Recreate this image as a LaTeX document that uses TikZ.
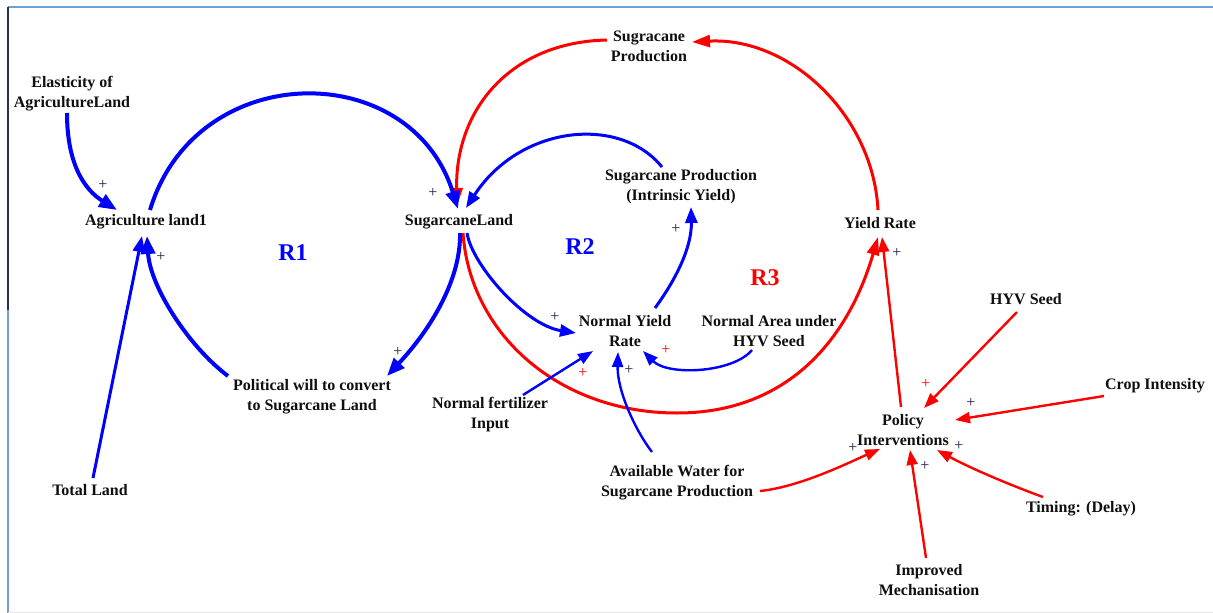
\documentclass[tikz,border=0pt]{standalone}
\usepackage{fontspec}
\setmainfont{Liberation Serif}
\usetikzlibrary{arrows.meta,calc}
\definecolor{myblue}{RGB}{0,0,255}
\definecolor{myred}{RGB}{255,0,0}
\definecolor{plusdark}{RGB}{30,30,70}
\definecolor{frameblue}{RGB}{110,160,215}
\definecolor{framedark}{RGB}{35,50,80}
\definecolor{txt}{RGB}{15,15,15}
\tikzset{
  lbl/.style={font=\fontsize{16}{20}\selectfont\bfseries, text=txt, align=center, inner sep=1pt},
  loopname/.style={font=\fontsize{24}{24}\selectfont\bfseries, inner sep=0pt},
  pl/.style={font=\fontsize{16}{16}\selectfont, text=plusdark, inner sep=0pt},
  plr/.style={font=\fontsize{16}{16}\selectfont, text=myred, inner sep=0pt},
  bthick/.style={draw=myblue, line width=4pt, -{Triangle[length=18pt,width=14pt]}},
  bmed/.style={draw=myblue, line width=3pt, -{Triangle[length=16pt,width=12pt]}},
  bthin/.style={draw=myblue, line width=2.4pt, -{Triangle[length=15pt,width=11pt]}},
  rmed/.style={draw=myred, line width=3pt, -{Triangle[length=18pt,width=12pt]}},
  rthin/.style={draw=myred, line width=2.4pt, -{Triangle[length=15pt,width=11pt]}},
}
\begin{document}
\begin{tikzpicture}[x=1pt,y=-1pt]
\useasboundingbox (0,0) rectangle (1213,613);
\fill[white] (0,0) rectangle (1213,613);
% frame
\draw[frameblue, line width=2pt] (8,7) -- (1213,7);
\draw[framedark, line width=2pt] (8,7) -- (8,310);
\draw[frameblue, line width=2pt] (8,310) -- (8,613);
\draw[black!10, line width=1pt] (8,612) -- (1213,612);

% nodes
\node[lbl] (ela)  at (72,94)   {Elasticity of\\AgricultureLand};
\node[lbl] (al)   at (146,222) {Agriculture land1};
\node[lbl] (sl)   at (459,222) {SugarcaneLand};
\node[lbl] (sp)   at (649,46)  {Sugracane\\Production};
\node[lbl] (spi)  at (681,187) {Sugarcane Production\\(Intrinsic Yield)};
\node[lbl] (yr)   at (880,223) {Yield Rate};
\node[lbl] (nyr)  at (625,331) {Normal Yield\\Rate};
\node[lbl] (nah)  at (769,331) {Normal Area under\\HYV Seed};
\node[lbl] (hyv)  at (1026,299) {HYV Seed};
\node[lbl] (crop) at (1155,386) {Crop Intensity};
\node[lbl] (pw)   at (312,397) {Political will to convert\\to Sugarcane Land};
\node[lbl] (nfi)  at (490,415) {Normal fertilizer\\Input};
\node[lbl] (pol)  at (903,430) {Policy\\Interventions};
\node[lbl] (tl)   at (90,490)  {Total Land};
\node[lbl] (aw)   at (677,483) {Available Water for\\Sugarcane Production};
\node[lbl] (tim)  at (1081,509) {Timing: (Delay)};
\node[lbl] (mech) at (929,580) {Improved\\Mechanisation};

\node[loopname, text=myblue] (r1) at (293,253) {R1};
\node[loopname, text=myblue] (r2) at (580,247) {R2};
\node[loopname, text=myred]  (r3) at (765,278) {R3};

% red connectors
\draw[rmed] ($(yr)+(-2,-13)$) .. controls (873,115) and (790,37) .. ($(sp)+(43,-4)$);
\draw[rmed] ($(sp)+(-42,-6)$) .. controls (510,42) and (455,110) .. ($(sl)+(-2,-16)$);
\draw[rmed] ($(sl)+(4,11)$) .. controls (470,335) and (560,413) .. (677,413)
                            .. controls (787,413) and (848,340) .. ($(yr)+(-2,14)$);
\draw[rthin] ($(pol)+(-2,-23)$) -- ($(yr)+(2,14)$);
\draw[rthin] ($(hyv)+(-9,13)$) -- ($(pol)+(21,-22)$);
\draw[rthin] ($(crop)+(-51,10)$) -- ($(pol)+(52,-10)$);
\draw[rthin] ($(tim)+(-38,-12)$) .. controls (1010,485) and (970,468) .. ($(pol)+(34,20)$);
\draw[rthin] ($(mech)+(-3,-22)$) -- ($(pol)+(7,20)$);
\draw[rthin] ($(aw)+(83,8)$) .. controls (800,487) and (850,462) .. ($(pol)+(-23,19)$);

% blue connectors
\draw[bthick] ($(ela)+(-5,19)$) .. controls (67,165) and (85,190) .. ($(al)+(-29,-12)$);
\draw[bthick] ($(al)+(4,-12)$) .. controls (196,58) and (411,57) .. ($(sl)+(-1,-13)$);
\draw[bmed] ($(tl)+(3,-12)$) -- ($(al)+(-4,14)$);
\draw[bthick] ($(pw)+(-84,-21)$) .. controls (188,346) and (150,286) .. ($(al)+(1,14)$);
\draw[bthick] ($(sl)+(1,11)$) .. controls (461,280) and (430,330) .. ($(pw)+(75,-21)$);
\draw[bmed] ($(sl)+(8,11)$) .. controls (472,265) and (525,325) .. ($(nyr)+(-49,2)$);
\draw[bmed] ($(spi)+(-19,-20)$) .. controls (620,115) and (520,125) .. ($(sl)+(7,-14)$);
\draw[bmed] ($(nyr)+(30,-23)$) .. controls (672,285) and (692,250) .. ($(spi)+(10,20)$);
\draw[bthin] ($(nah)+(-17,19)$) .. controls (733,373) and (668,376) .. ($(nyr)+(18,20)$);
\draw[bthin] ($(nfi)+(33,-20)$) -- ($(nyr)+(-32,20)$);
\draw[bthin] ($(aw)+(-25,-31)$) .. controls (635,430) and (617,390) .. ($(nyr)+(-7,21)$);

% polarity signs
\node[pl]  (p1)  at (103,185) {+};
\node[pl]  (p2)  at (161,257) {+};
\node[pl]  (p3)  at (433,193) {+};
\node[pl]  (p4)  at (398,352) {+};
\node[pl]  (p5)  at (555,317) {+};
\node[pl]  (p6)  at (676,229) {+};
\node[plr] (p7)  at (666,350) {+};
\node[plr] (p8)  at (583,373) {+};
\node[pl]  (p9)  at (629,370) {+};
\node[pl]  (p10) at (897,253) {+};
\node[plr] (p11) at (926,384) {+};
\node[pl]  (p12) at (971,403) {+};
\node[pl]  (p13) at (959,446) {+};
\node[pl]  (p14) at (925,466) {+};
\node[pl]  (p15) at (853,448) {+};
\end{tikzpicture}
\end{document}
